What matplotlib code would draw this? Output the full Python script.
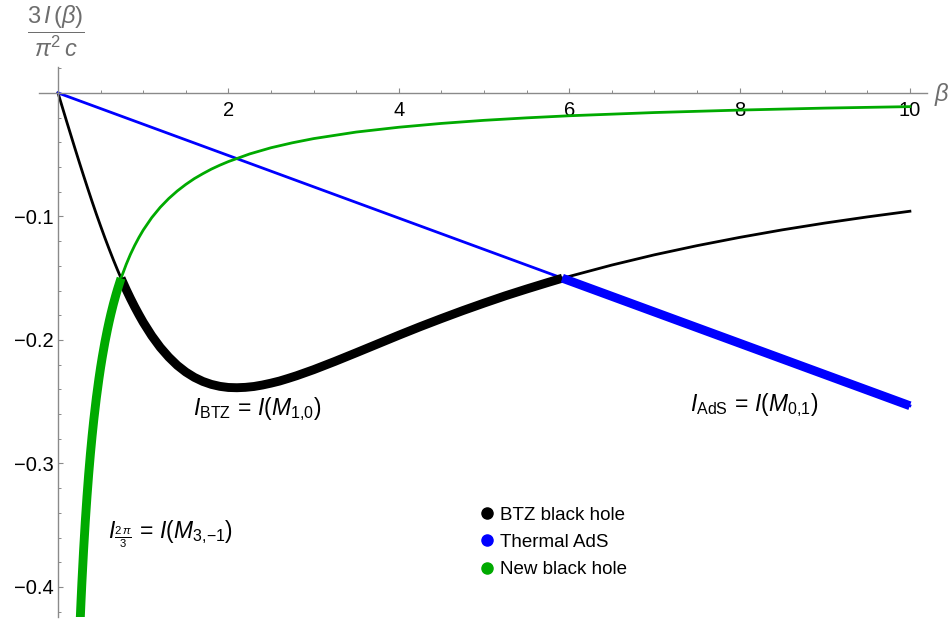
import matplotlib
matplotlib.use('Agg')
import numpy as np
from matplotlib import pyplot as plt
from matplotlib.lines import Line2D
from matplotlib.ticker import MultipleLocator, FixedLocator

plt.rcParams['font.family'] = 'Liberation Sans'
plt.rcParams['mathtext.fontset'] = 'custom'
plt.rcParams['mathtext.rm'] = 'Liberation Sans'
plt.rcParams['mathtext.it'] = 'Liberation Sans:italic'

# values
beta_btz = [0, 0.05, 0.1, 0.15, 0.2, 0.25, 0.3, 0.35, 0.4, 0.45, 0.5, 0.55, 0.6, 0.65,
            0.7, 0.74, 0.8, 0.85, 0.9, 0.95, 1.0, 1.1, 1.2, 1.3, 1.4, 1.5, 1.6, 1.7,
            1.8, 1.9, 2.0, 2.1, 2.2, 2.3, 2.4, 2.5, 2.6, 2.7, 2.8, 3.0, 3.25, 3.5,
            3.75, 4.0, 4.25, 4.5, 4.75, 5.0, 5.25, 5.5, 5.75, 5.92, 6.0, 6.5, 7.0,
            7.5, 8.0, 8.5, 9.0, 9.5, 10.0]
i_btz = [0, -0.0114, -0.0228, -0.0340, -0.0452, -0.0562, -0.0670, -0.0776, -0.0880,
         -0.0981, -0.1078, -0.1173, -0.1264, -0.1352, -0.1436, -0.1500, -0.1592,
         -0.1664, -0.1732, -0.1796, -0.1857, -0.1966, -0.2060, -0.2139, -0.2206,
         -0.2260, -0.2303, -0.2336, -0.2360, -0.2376, -0.2385, -0.2387, -0.2384,
         -0.2377, -0.2365, -0.2350, -0.2333, -0.2312, -0.2290, -0.2241, -0.2174,
         -0.2104, -0.2033, -0.1962, -0.1893, -0.1827, -0.1763, -0.1702, -0.1643,
         -0.1588, -0.1535, -0.1500, -0.1486, -0.1394, -0.1311, -0.1237, -0.1170,
         -0.1109, -0.1054, -0.1004, -0.0958]

beta_ads = [0, 5.92, 10.0]
i_ads = [0, -0.1500, -0.2533]

beta_new = [0.24, 0.25, 0.26, 0.27, 0.28, 0.30, 0.32, 0.34, 0.36, 0.38, 0.40, 0.42,
            0.45, 0.48, 0.50, 0.52, 0.55, 0.58, 0.60, 0.62, 0.65, 0.68, 0.70, 0.74,
            0.80, 0.85, 0.90, 0.95, 1.0, 1.1, 1.2, 1.3, 1.4, 1.5, 1.6, 1.7, 1.8, 1.9,
            2.0, 2.25, 2.5, 2.75, 3.0, 3.5, 4.0, 4.5, 5.0, 5.5, 6.0, 7.0, 8.0, 9.0, 10.0]
i_new = [-0.4630, -0.4444, -0.4274, -0.4115, -0.3968, -0.3704, -0.3472, -0.3268,
         -0.3086, -0.2924, -0.2778, -0.2646, -0.2469, -0.2315, -0.2222, -0.2137,
         -0.2020, -0.1916, -0.1852, -0.1792, -0.1709, -0.1634, -0.1587, -0.1500,
         -0.1389, -0.1307, -0.1235, -0.1170, -0.1111, -0.1010, -0.0926, -0.0855,
         -0.0794, -0.0741, -0.0694, -0.0654, -0.0617, -0.0585, -0.0556, -0.0494,
         -0.0444, -0.0404, -0.0370, -0.0317, -0.0278, -0.0247, -0.0222, -0.0202,
         -0.0185, -0.0159, -0.0139, -0.0123, -0.0111]

# where the phases swap
beta_c1 = 0.74
beta_c2 = 5.92

labels = ['BTZ black hole', 'Thermal AdS', 'New black hole']
c_btz, c_ads, c_new = 'black', '#0000ff', '#00aa00'

fig = plt.figure(figsize=(9.51, 6.19), dpi=100)
ax = fig.add_axes([0.0413, 0.0039, 0.9334, 0.8879])
ax.set_xlim(-0.22, 10.2)
ax.set_ylim(-0.424, 0.021)

bb, ib = np.array(beta_btz), np.array(i_btz)
ba, ia = np.array(beta_ads), np.array(i_ads)
bn, inew = np.array(beta_new), np.array(i_new)

thin = 2.0
thick = 6.4
kw = dict(solid_joinstyle='round')
ax.plot(bb, ib, color=c_btz, lw=thin, zorder=2, **kw)
ax.plot(ba, ia, color=c_ads, lw=thin, zorder=2, **kw)
ax.plot(bn, inew, color=c_new, lw=thin, zorder=2, **kw)

m = (bb >= beta_c1) & (bb <= beta_c2)
ax.plot(bb[m], ib[m], color=c_btz, lw=thick, zorder=3, solid_capstyle='butt', **kw)
m = ba >= beta_c2
ax.plot(ba[m], ia[m], color=c_ads, lw=thick, zorder=3, solid_capstyle='butt', **kw)
m = bn <= beta_c1
ax.plot(bn[m], inew[m], color=c_new, lw=thick, zorder=3, solid_capstyle='butt', **kw)

# Mathematica-like axes through the origin
gray = '#8a8a8a'
for s in ['top', 'right']:
    ax.spines[s].set_visible(False)
ax.spines['left'].set_position(('data', 0))
ax.spines['bottom'].set_position(('data', 0))
ax.spines['left'].set_color(gray)
ax.spines['bottom'].set_color(gray)
ax.spines['left'].set_linewidth(1.0)
ax.spines['bottom'].set_linewidth(1.0)

ax.xaxis.set_major_locator(FixedLocator([2, 4, 6, 8, 10]))
ax.xaxis.set_minor_locator(MultipleLocator(0.5))
ax.yaxis.set_major_locator(FixedLocator([-0.1, -0.2, -0.3, -0.4]))
ax.yaxis.set_minor_locator(MultipleLocator(0.02))
ax.set_yticklabels(['\u22120.1', '\u22120.2', '\u22120.3', '\u22120.4'])
ax.tick_params(which='both', direction='in', color=gray, labelsize=14.5)
ax.tick_params(which='major', length=3.5, width=0.8)
ax.tick_params(which='minor', length=2.2, width=0.7)
ax.tick_params(axis='x', pad=6)
ax.tick_params(axis='y', pad=3)
ax.patch.set_visible(False)

# axis labels
fig.text(56 / 951, 1 - 31 / 619, r'$\dfrac{3\,I\,(\beta)}{\pi^2\,c}$', color='#6e6e6e',
         fontsize=17, ha='center', va='center')
fig.text(942 / 951, 1 - 95 / 619, r'$\beta$', color='#6e6e6e', fontsize=17,
         ha='center', va='center')

# annotations
ax.text(1.585, -0.256, r'$I_{\mathrm{BTZ}}\,=\,I(M_{1{,}0})$', fontsize=16.5,
        ha='left', va='center')
ax.text(7.42, -0.2526, r'$I_{\mathrm{AdS}}\,=\,I(M_{0{,}1})$', fontsize=16.5,
        ha='left', va='center')
ax.text(0.587, -0.357, r'$I_{\frac{2\,\pi}{3}}\,=\,I(M_{3{,}{-1}})$',
        fontsize=16.5, ha='left', va='center')

handles = [Line2D([], [], ls='none', marker='o', ms=8, color=c) for c in (c_btz, c_ads, c_new)]
fig.legend(handles, labels, loc='upper left', bbox_to_anchor=(466 / 951, 1 - 497 / 619),
           frameon=False, fontsize=13.5, handletextpad=0.1, labelspacing=0.55,
           handlelength=1.2, borderpad=0)

fig.savefig('out.png', dpi=100)
